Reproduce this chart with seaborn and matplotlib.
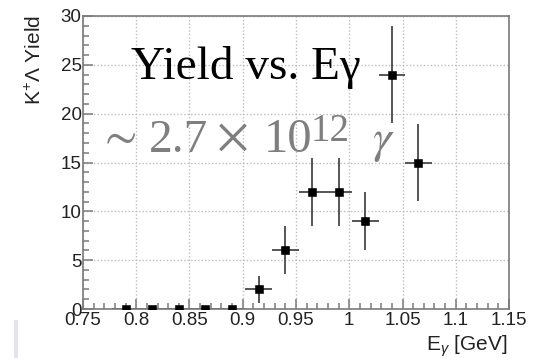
import matplotlib
matplotlib.use("Agg")
import matplotlib.pyplot as plt
import seaborn as sns
import pandas as pd
from matplotlib.patches import Rectangle
from matplotlib.ticker import MultipleLocator

# ---- data ----
energy = [0.79, 0.815, 0.84, 0.865, 0.89, 0.915, 0.94, 0.965, 0.99, 1.015, 1.04, 1.065]
yields = [0, 0, 0, 0, 0, 2, 6, 12, 12, 9, 24, 15]
yield_err = [0, 0, 0, 0, 0, 1.4, 2.45, 3.5, 3.5, 3.0, 5.0, 3.9]
energy_err = [0.0125] * 12

x_ticks = [0.75, 0.8, 0.85, 0.9, 0.95, 1.0, 1.05, 1.1, 1.15]
x_tick_labels = ["0.75", "0.8", "0.85", "0.9", "0.95", "1", "1.05", "1.1", "1.15"]
y_ticks = [0, 5, 10, 15, 20, 25, 30]

title_text = "Yield vs. Eγ"
flux_parts = [r"$\sim$", "2.7", r"$\times$", "10", "12", r"$\gamma$"]
ylabel_text = r"K$^{+}$Λ Yield"
xlabel_text = r"E$_{\gamma}$ [GeV]"

df = pd.DataFrame({"E": energy, "Y": yields, "dY": yield_err, "dE": energy_err})

sns.set_style("ticks")
plt.rcParams["font.family"] = ["Liberation Sans", "DejaVu Sans"]
plt.rcParams["mathtext.fontset"] = "custom"
plt.rcParams["mathtext.rm"] = "Liberation Sans"
plt.rcParams["mathtext.it"] = "Liberation Sans:italic"

W, H = 538, 358
fig = plt.figure(figsize=(W / 100, H / 100), dpi=100)
fig.patch.set_facecolor("white")
ax = fig.add_axes([83 / W, 1 - 309 / H, 426 / W, 293 / H])

ax.errorbar(df["E"], df["Y"], xerr=df["dE"], yerr=df["dY"], fmt="none",
            ecolor="#555555", elinewidth=1.4, capsize=0, zorder=2)
sns.scatterplot(data=df, x="E", y="Y", marker="s", color="black",
                edgecolor="black", s=28, ax=ax, zorder=3, legend=False)

ax.set_xlim(0.75, 1.15)
ax.set_ylim(0, 30)
ax.set_xticks(x_ticks)
ax.set_xticklabels(x_tick_labels)
ax.set_yticks(y_ticks)
ax.xaxis.set_minor_locator(MultipleLocator(0.01))
ax.yaxis.set_minor_locator(MultipleLocator(1))
ax.set_xlabel("")
ax.set_ylabel("")

ax.grid(True, which="major", linestyle=(0, (1, 1.5)), color="#bdbdbd", linewidth=1.0)
ax.set_axisbelow(True)
for s in ax.spines.values():
    s.set_color("#7a7a7a")
    s.set_linewidth(1.2)
ax.tick_params(which="both", direction="in", color="#7a7a7a", width=1.1,
               top=False, right=False, labelsize=13.5, labelcolor="#222222")
ax.tick_params(which="major", length=7)
ax.tick_params(which="minor", length=4)
ax.tick_params(axis="y", pad=1)
ax.tick_params(axis="x", pad=2)

# axis titles (ROOT style, aligned at the ends)
fig.text(35 / W, 1 - 15 / H, ylabel_text, rotation=90, ha="center", va="top",
         fontsize=15, color="#222222")
fig.text(508 / W, 1 - 351 / H, xlabel_text, ha="right", va="baseline",
         fontsize=15, color="#222222")

# overlaid annotation texts
fig.text(131 / W, 1 - 79 / H, title_text, ha="left", va="baseline",
         fontsize=34, color="black", family=["Liberation Serif", "DejaVu Serif"])

gray = "#7f7f7f"
serif = ["Liberation Serif", "DejaVu Serif"]
base = 1 - 152 / H
fig.text(117 / W, 1 - 137 / H, flux_parts[0], ha="center", va="center",
         fontsize=34, color=gray, math_fontfamily="stix")
fig.text(149 / W, base, flux_parts[1], ha="left", va="baseline",
         fontsize=34, color=gray, family=serif)
fig.text(232 / W, 1 - 137 / H, flux_parts[2], ha="center", va="center",
         fontsize=36, color=gray, math_fontfamily="stix")
fig.text(264 / W, base, flux_parts[3], ha="left", va="baseline",
         fontsize=35, color=gray, family=serif)
fig.text(311 / W, 1 - 113 / H, flux_parts[4], ha="left", va="top",
         fontsize=28, color=gray, family=serif)
fig.text(372 / W, base, flux_parts[5], ha="left", va="baseline",
         fontsize=34, color=gray, math_fontfamily="stix")

# light screenshot artifact at bottom-left
fig.patches.append(Rectangle((14 / W, 0), 4 / W, 38 / H, transform=fig.transFigure,
                             facecolor="#e4e4ec", edgecolor="none", figure=fig))

fig.savefig("out.png", dpi=100)
